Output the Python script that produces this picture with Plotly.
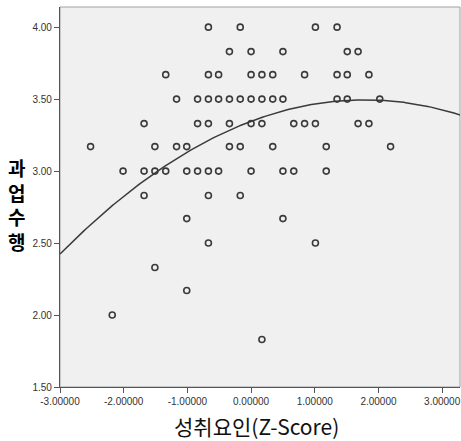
import numpy as np
import plotly.graph_objects as go

# Z-score of achievement factor (x) and task performance (y)
z_score = [
    -0.67, -0.17, 1.01, 1.35,
    -0.34, 0.00, 0.50, 1.51, 1.68,
    -1.34, -0.67, -0.51, 0.00, 0.17, 0.34, 0.84, 1.35, 1.51, 1.85,
    -1.17, -0.84, -0.67, -0.51, -0.34, -0.17, 0.00, 0.17, 0.34, 0.50, 1.35, 1.51, 2.02,
    -1.68, -0.84, -0.67, -0.34, 0.00, 0.17, 0.67, 0.84, 1.01, 1.68, 1.85,
    -2.52, -1.51, -1.17, -1.01, -0.34, -0.17, 0.34, 1.18, 2.19,
    -2.01, -1.68, -1.51, -1.34, -1.01, -0.84, -0.67, -0.51, 0.00, 0.50, 0.67, 1.18,
    -1.68, -0.67, -0.17,
    -1.01, 0.50,
    -0.67, 1.01,
    -1.51,
    -1.01,
    -2.18,
    0.17,
]
performance = (
    [4.00] * 4 + [3.83] * 5 + [3.67] * 10 + [3.50] * 13 + [3.33] * 11
    + [3.17] * 9 + [3.00] * 12 + [2.83] * 3 + [2.67] * 2 + [2.50] * 2
    + [2.33] + [2.17] + [2.00] + [1.83]
)

# quadratic fit line coefficients (a + b*z + c*z^2)
fit_a, fit_b, fit_c = 3.346, 0.167, -0.0468

x_ticks = [-3, -2, -1, 0, 1, 2, 3]
x_tick_labels = ["-3.00000", "-2.00000", "-1.00000", "0.00000", "1.00000", "2.00000", "3.00000"]
y_ticks = [1.5, 2.0, 2.5, 3.0, 3.5, 4.0]
y_tick_labels = ["1.50", "2.00", "2.50", "3.00", "3.50", "4.00"]

x_title = "성취요인(Z-Score)"
y_title = "과<br>업<br>수<br>행"

x_range = [-3.0, 3.28]
y_range = [1.5, 4.14]

curve_x = np.linspace(x_range[0], x_range[1], 200)
curve_y = fit_a + fit_b * curve_x + fit_c * curve_x ** 2

fig = go.Figure()
fig.add_trace(go.Scatter(
    x=curve_x, y=curve_y, mode="lines",
    line=dict(color="#3a3a3a", width=1.5),
    hoverinfo="skip", showlegend=False,
))
fig.add_trace(go.Scatter(
    x=z_score, y=performance, mode="markers",
    marker=dict(symbol="circle-open", size=6, color="#3a3a3a", line=dict(width=1.6, color="#3a3a3a")),
    showlegend=False,
))

axis_common = dict(
    showgrid=False, zeroline=False, showline=True, linecolor="#555555", linewidth=1.2,
    ticks="outside", ticklen=5, tickwidth=1, tickcolor="#555555",
    tickfont=dict(family="Liberation Sans, Arial, sans-serif", size=10, color="#333333"),
)

fig.update_layout(
    width=461, height=441,
    margin=dict(l=60, r=1, t=7, b=54),
    paper_bgcolor="white", plot_bgcolor="#f0f0f0",
    xaxis=dict(range=x_range, tickvals=x_ticks, ticktext=x_tick_labels, **axis_common),
    yaxis=dict(range=y_range, tickvals=y_ticks, ticktext=y_tick_labels, **axis_common),
    shapes=[dict(type="rect", xref="paper", yref="paper", x0=0, y0=0, x1=1, y1=1,
                 line=dict(color="#a0a0a0", width=1), layer="below")],
    annotations=[
        dict(text=x_title, xref="paper", yref="paper", x=0.49, y=-0.103,
             xanchor="center", yanchor="middle", showarrow=False,
             font=dict(family="Noto Sans CJK KR", size=21, color="#111111")),
        dict(text=y_title, xref="paper", yref="paper", x=-0.11, y=0.479,
             xanchor="center", yanchor="middle", showarrow=False,
             font=dict(family="Noto Sans CJK KR", size=19, color="#000000", weight="bold")),
    ],
)

fig.write_html(
    "out.html",
    config={"displayModeBar": False},
    post_script="document.body.style.margin='0';document.body.style.overflow='hidden';",
)
